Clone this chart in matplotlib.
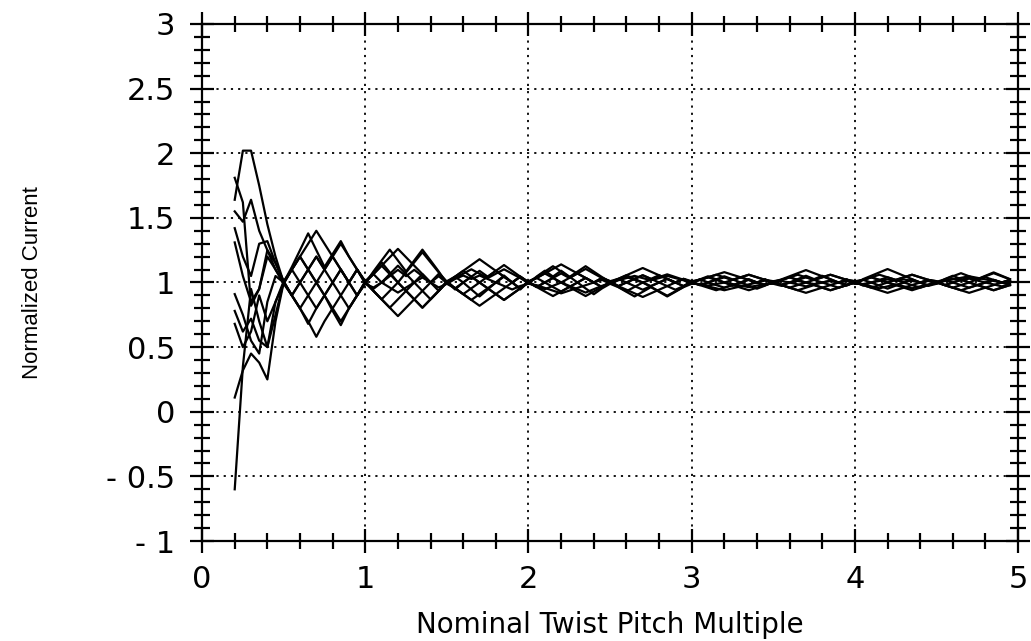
import numpy as np
import matplotlib
matplotlib.use("Agg")
import matplotlib.pyplot as plt
from matplotlib.ticker import MultipleLocator

# twist pitch multiple, sampled every 0.05 from 0.2 to 4.95
pitch = np.linspace(0.2, 4.95, 96)

# normalized current of each strand
strand_1 = [1.64, 2.02, 2.02, 1.75, 1.45, 1.2, 1.0,
            1.12, 1.25, 1.38, 1.25, 1.12, 1.22, 1.32, 1.2, 1.1, 1.0,
            .935, .87, .805, .74, .805, .87, .935, 1, 1.065, 1.0,
            1.045, 1.09, 1.045, 1, 1.045, 1.09, 1.135, 1.09, 1.045, 1.0,
            .965, 1, .965, .93, .965, 1, 1.035, 1, .965, 1.0,
            1.028, 1.056, 1.084, 1.112, 1.084, 1.056, 1.028, 1, .972, 1.0,
            .98, .96, .94, .96, .98, .96, .94, .96, .98, 1.0,
            1.02, 1.04, 1.02, 1.04, 1.02, 1, .98, .96, .98, 1.0,
            .98, .96, .98, 1, .98, .96, .94, .96, .98, 1.0,
            1.02, 1, 1.02, 1, .98, 1, 1.02, 1, 1.02]
strand_2 = [1.81, 1.62, 0.82, 0.95, 1.25, 1.15, 1.01,
            .9, .8, .68, .8, .9, .78, .67, .8, .9, 1.01,
            1.065, 1.13, 1.195, 1.26, 1.195, 1.13, 1.065, 1, .935, 1.01,
            .955, .91, .955, 1, .955, .91, .865, .91, .955, 1.01,
            1.035, 1, 1.035, 1, .965, 1, 1.035, 1, 1.035, 1.01,
            .972, 1, 1.028, 1.056, 1.028, 1.056, 1.028, 1, 1.028, 1.01,
            1.02, 1.04, 1.06, 1.04, 1.02, 1.04, 1.06, 1.04, 1.02, 1.01,
            .98, .96, .94, .92, .94, .96, .98, 1, 1.02, 1.01,
            1.02, 1.04, 1.02, 1, 1.02, 1.04, 1.06, 1.04, 1.02, 1.01,
            .98, 1, .98, .96, .98, 1, 1.02, 1, .98]
strand_3 = [1.55, 1.47, 1.64, 1.40, 1.25, 1.1, 0.99,
            1.1, 1.2, 1.1, 1.0, 1.1, 1.2, 1.3, 1.2, 1.1, .99,
            .961, 1, .961, .922, .961, 1, 1.039, 1, .961, .99,
            1.027, 1.054, 1.027, 1.054, 1.027, 1, .973, .946, .973, .99,
            .979, .958, .937, .916, .937, .958, .979, 1, 1.021, .99,
            1.017, 1.034, 1.051, 1.034, 1.017, 1.034, 1.051, 1.034, 1.017, .99,
            .988, .976, .988, 1, .988, .976, .964, .976, .988, .99,
            1.012, 1, 1.012, 1, .988, 1, 1.012, 1, 1.012, .99,
            .988, 1, 1.012, 1.024, 1.012, 1.024, 1.012, 1, 1.012, .99,
            1.012, 1.024, 1.036, 1.048, 1.036, 1.024, 1.012, 1, .988]
strand_4 = [1.42, 1.2, 1.05, 1.3, 1.32, 1.15, 1.005,
            .9, .8, .9, 1.0, .9, .8, .7, .8, .9, 1.005,
            1.065, 1, 1.065, 1, .935, 1, 1.065, 1, 1.065, 1.005,
            .955, 1, 1.045, 1.09, 1.045, 1.09, 1.045, 1, 1.045, 1.005,
            1.035, 1.07, 1.105, 1.14, 1.105, 1.07, 1.035, 1, .965, 1.005,
            .972, 1, .972, .944, .972, 1, 1.028, 1, .972, 1.005,
            1.02, 1.04, 1.02, 1, 1.02, 1.04, 1.06, 1.04, 1.02, 1.005,
            .98, .96, .94, .96, .98, .96, .94, .96, .98, 1.005,
            1.02, 1.04, 1.02, 1.04, 1.02, 1, .98, .96, .98, 1.005,
            .98, .96, .94, .92, .94, .96, .98, 1, 1.02]
strand_5 = [1.31, 1.05, 0.85, 0.95, 1.2, 1.1, .995,
            1.1, 1.2, 1.3, 1.4, 1.3, 1.2, 1.1, 1.0, .9, .995,
            .951, 1, 1.049, 1.098, 1.049, 1.098, 1.049, 1, 1.049, .995,
            1.034, 1.068, 1.102, 1.068, 1.034, 1.068, 1.102, 1.068, 1.034, .995,
            .974, .948, .974, 1, .974, .948, .922, .948, .974, .995,
            1.021, 1.042, 1.021, 1, 1.021, 1.042, 1.063, 1.042, 1.021, .995,
            .985, .97, .955, .94, .955, .97, .985, 1, 1.015, .995,
            .985, 1, .985, .97, .985, 1, 1.015, 1, .985, .995,
            .985, .97, .955, .97, .985, .97, .955, .97, .985, .995,
            1.015, 1.03, 1.015, 1.03, 1.015, 1, .985, .97, .985]
strand_6 = [0.91, 0.75, 0.55, 0.45, 0.85, 1.05, 1.0,
            .9, .8, .7, .58, .7, .8, .9, 1.0, 1.1, 1.0,
            1.065, 1.13, 1.065, 1.13, 1.065, 1, .935, .87, .935, 1.0,
            .955, .91, .865, .91, .955, .91, .865, .91, .955, 1.0,
            1.035, 1.07, 1.035, 1, 1.035, 1.07, 1.105, 1.07, 1.035, 1.0,
            .972, .944, .916, .888, .916, .944, .972, 1, 1.028, 1.0,
            1.02, 1.04, 1.06, 1.08, 1.06, 1.04, 1.02, 1, .98, 1.0,
            1.02, 1.04, 1.06, 1.04, 1.02, 1.04, 1.06, 1.04, 1.02, 1.0,
            1.02, 1, 1.02, 1, .98, 1, 1.02, 1, 1.02, 1.0,
            .98, 1, 1.02, 1.04, 1.02, 1.04, 1.02, 1, 1.02]
strand_7 = [0.78, 0.62, 0.72, 0.55, 0.5, 0.85, 1.01,
            1.1, 1.0, 1.1, 1.0, .9, 1.0, 1.1, 1.0, 1.1, 1.01,
            .935, .87, .805, .87, .935, .87, .805, .87, .935, 1.01,
            1.045, 1.09, 1.135, 1.18, 1.135, 1.09, 1.045, 1, .955, 1.01,
            .965, 1, 1.035, 1.07, 1.035, 1.07, 1.035, 1, 1.035, 1.01,
            1.028, 1.056, 1.028, 1.056, 1.028, 1, .972, .944, .972, 1.01,
            .98, 1, .98, .96, .98, 1, 1.02, 1, .98, 1.01,
            1.02, 1.04, 1.02, 1, 1.02, 1.04, 1.06, 1.04, 1.02, 1.01,
            .98, .96, .94, .92, .94, .96, .98, 1, 1.02, 1.01,
            .98, .96, .98, 1, .98, .96, .94, .96, .98]
strand_8 = [0.68, 0.5, 0.62, 0.9, 0.7, 0.85, .99,
            .9, 1.0, .9, .8, .9, 1.0, 1.1, 1.0, .9, .99,
            1.085, 1.17, 1.254, 1.17, 1.085, 1.17, 1.254, 1.17, 1.085, .99,
            .955, .91, .865, .82, .865, .91, .955, 1, 1.045, .99,
            1.046, 1.091, 1.046, 1.091, 1.046, 1, .954, .909, .954, .99,
            .964, .928, .892, .928, .964, .928, .892, .928, .964, .99,
            1.026, 1, 1.026, 1, .974, 1, 1.026, 1, 1.026, .99,
            .974, 1, 1.026, 1.052, 1.026, 1.052, 1.026, 1, 1.026, .99,
            1.026, 1.052, 1.078, 1.104, 1.078, 1.052, 1.026, 1, .974, .99,
            1.026, 1.052, 1.026, 1, 1.026, 1.052, 1.078, 1.052, 1.026]
strand_9 = [0.11, 0.32, 0.45, 0.38, 0.25, 0.7, 1.0,
            1.1, 1.2, 1.1, 1.2, 1.1, 1.0, .9, .8, .9, 1.0,
            .935, .87, .935, 1, .935, .87, .805, .87, .935, 1.0,
            1.045, 1, 1.045, 1, .955, 1, 1.045, 1, 1.045, 1.0,
            .965, .93, .895, .93, .965, .93, .895, .93, .965, 1.0,
            1.028, 1, 1.028, 1, .972, 1, 1.028, 1, 1.028, 1.0,
            .98, 1, 1.02, 1.04, 1.02, 1.04, 1.02, 1, 1.02, 1.0,
            .98, .96, .98, 1, .98, .96, .94, .96, .98, 1.0,
            1.02, 1.04, 1.06, 1.04, 1.02, 1.04, 1.06, 1.04, 1.02, 1.0,
            .98, .96, .94, .96, .98, .96, .94, .96, .98]
strand_10 = [-0.6, 0.35, 0.95, 0.7, 0.5, 0.75, 1.005,
             .9, 1.0, 1.1, 1.2, 1.1, 1.2, 1.1, 1.0, 1.1, 1.005,
             1.078, 1.156, 1.078, 1, 1.078, 1.156, 1.234, 1.156, 1.078, 1.005,
             .946, 1, .946, .892, .946, 1, 1.054, 1, .946, 1.005,
             1.042, 1.084, 1.126, 1.084, 1.042, 1.084, 1.126, 1.084, 1.042, 1.005,
             .966, .932, .966, 1, .966, .932, .898, .932, .966, 1.005,
             1.024, 1.048, 1.024, 1.048, 1.024, 1, .976, .952, .976, 1.005,
             1.024, 1.048, 1.072, 1.096, 1.072, 1.048, 1.024, 1, .976, 1.005,
             .976, 1, .976, .952, .976, 1, 1.024, 1, .976, 1.005,
             1.024, 1.048, 1.072, 1.048, 1.024, 1.048, 1.072, 1.048, 1.024]

strands = [strand_1, strand_2, strand_3, strand_4, strand_5,
           strand_6, strand_7, strand_8, strand_9, strand_10]

x_ticks = [0, 1, 2, 3, 4, 5]
y_ticks = [-1, -0.5, 0, 0.5, 1, 1.5, 2, 2.5, 3]
y_labels = ['- 1', '- 0.5', '0', '0.5', '1', '1.5', '2', '2.5', '3']

fig = plt.figure(figsize=(10.31, 6.41), dpi=100)
ax = fig.add_axes([0.196, 0.156, 0.7915, 0.8066])

for s in strands:
    ax.plot(pitch, s, color='black', linewidth=1.6)

ax.set_xlim(0, 5)
ax.set_ylim(-1, 3)
ax.set_xticks(x_ticks)
ax.set_xticklabels([str(t) for t in x_ticks])
ax.set_yticks(y_ticks)
ax.set_yticklabels(y_labels)
ax.xaxis.set_minor_locator(MultipleLocator(0.2))
ax.yaxis.set_minor_locator(MultipleLocator(0.1))

ax.grid(which='major', color='black', linestyle=(0, (1.2, 2.8)), linewidth=1.3)
ax.tick_params(which='both', direction='inout', top=True, right=True,
               width=1.6, colors='black')
ax.tick_params(which='major', length=17, labelsize=22)
ax.tick_params(axis='y', which='major', pad=11)
ax.tick_params(axis='x', which='major', pad=9)
ax.tick_params(which='minor', length=11)
for t in ax.get_xticklabels() + ax.get_yticklabels():
    t.set_fontfamily('DejaVu Sans')
for sp in ax.spines.values():
    sp.set_linewidth(1.6)

ax.set_xlabel('Nominal Twist Pitch Multiple', fontsize=20,
              family='DejaVu Sans', labelpad=12)
ax.set_ylabel('Normalized Current', fontsize=16,
              family='Liberation Sans', labelpad=45)

fig.savefig('out.png', dpi=100)
